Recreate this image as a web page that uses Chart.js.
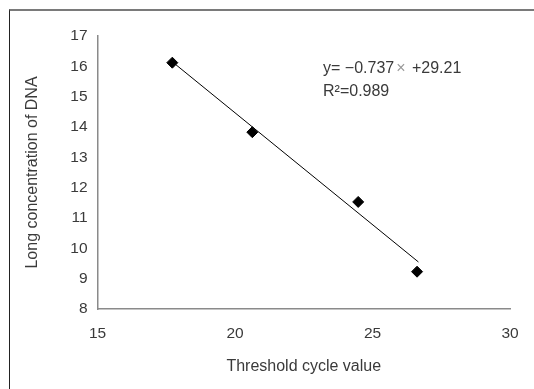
<!DOCTYPE html>
<html>
<head>
<meta charset="utf-8">
<script src="https://cdn.jsdelivr.net/npm/chart.js@4.4.1/dist/chart.umd.min.js"></script>
<style>
  html, body { margin: 0; padding: 0; background: #fff; overflow: hidden; }
  #wrap { position: relative; width: 534px; height: 389px; }
  #frame { position: absolute; left: 9px; top: 9px; width: 600px; height: 500px;
           border-top: 2px solid #7a7a7a; border-left: 1px solid #222; }
  canvas { position: absolute; left: 0; top: 0; }
</style>
</head>
<body>
<div id="wrap">
  <div id="frame"></div>
  <canvas id="scatterChart" width="534" height="389"></canvas>
</div>
<script>
// threshold cycle (Ct) vs log DNA concentration
const ctValues = [17.72, 20.63, 24.48, 26.62];
const logConc = [16.12, 13.83, 11.53, 9.23];

// trend line ends as drawn in the figure
const trendX = [17.72, 26.67];
const trendY = [16.15, 9.55];

const xTicks = [15, 20, 25, 30];
const yTicks = [8, 9, 10, 11, 12, 13, 14, 15, 16, 17];

const FONT = "'Liberation Sans', Arial, sans-serif";
const TEXT = "#3a3a3a";
const AXIS = "#8a8a8a";

const equationLabel = {
  id: "equationLabel",
  afterDraw(chart) {
    const c = chart.ctx;
    c.save();
    c.font = "16px " + FONT;
    c.textBaseline = "middle";
    c.textAlign = "left";
    let x = 323;
    const parts = [["y= \u22120.737", TEXT], ["\u00d7", "#9a9a9a"], [" +29.21", TEXT]];
    parts.forEach(([s, col]) => {
      c.fillStyle = col;
      c.fillText(s, x, 69);
      x += c.measureText(s).width + 2;
    });
    c.fillStyle = TEXT;
    c.fillText("R\u00b2=0.989", 323, 92);
    c.restore();
  }
};

const ctx = document.getElementById("scatterChart").getContext("2d");
new Chart(ctx, {
  type: "scatter",
  data: {
    datasets: [{
      label: "samples",
      data: ctValues.map((x, i) => ({ x: x, y: logConc[i] })),
      pointStyle: "rectRot",
      pointRadius: 5.5,
      backgroundColor: "#000",
      borderColor: "#000",
      borderWidth: 1
    }, {
      label: "trend",
      data: trendX.map((x, i) => ({ x: x, y: trendY[i] })),
      showLine: true,
      borderColor: "#000",
      borderWidth: 1,
      pointRadius: 0
    }]
  },
  options: {
    responsive: false,
    animation: false,
    layout: { padding: { left: 0, top: 36, right: 24, bottom: 0 } },
    plugins: { legend: { display: false }, tooltip: { enabled: false } },
    scales: {
      x: {
        type: "linear",
        min: 15, max: 30,
        afterBuildTicks: s => { s.ticks = xTicks.map(v => ({ value: v })); },
        afterFit: s => { s.height = 80; },
        grid: { display: false, drawTicks: false },
        border: { color: AXIS, width: 1.5 },
        ticks: { color: TEXT, font: { family: FONT, size: 15.5 }, padding: 15 },
        title: { display: true, text: "Threshold cycle value", color: TEXT,
                 font: { family: FONT, size: 16 }, padding: { top: 0, bottom: 12.7 } }
      },
      y: {
        type: "linear",
        min: 8, max: 17,
        afterBuildTicks: s => { s.ticks = yTicks.map(v => ({ value: v })); },
        afterFit: s => { s.width = 97.5; },
        grid: { display: false, drawTicks: false },
        border: { color: AXIS, width: 1.5 },
        ticks: { color: TEXT, font: { family: FONT, size: 15.5 }, padding: 10 },
        title: { display: true, text: "Long concentration of DNA", color: TEXT,
                 font: { family: FONT, size: 16 }, padding: { top: 22.8, bottom: 0 } }
      }
    }
  },
  plugins: [equationLabel]
});
</script>
</body>
</html>
